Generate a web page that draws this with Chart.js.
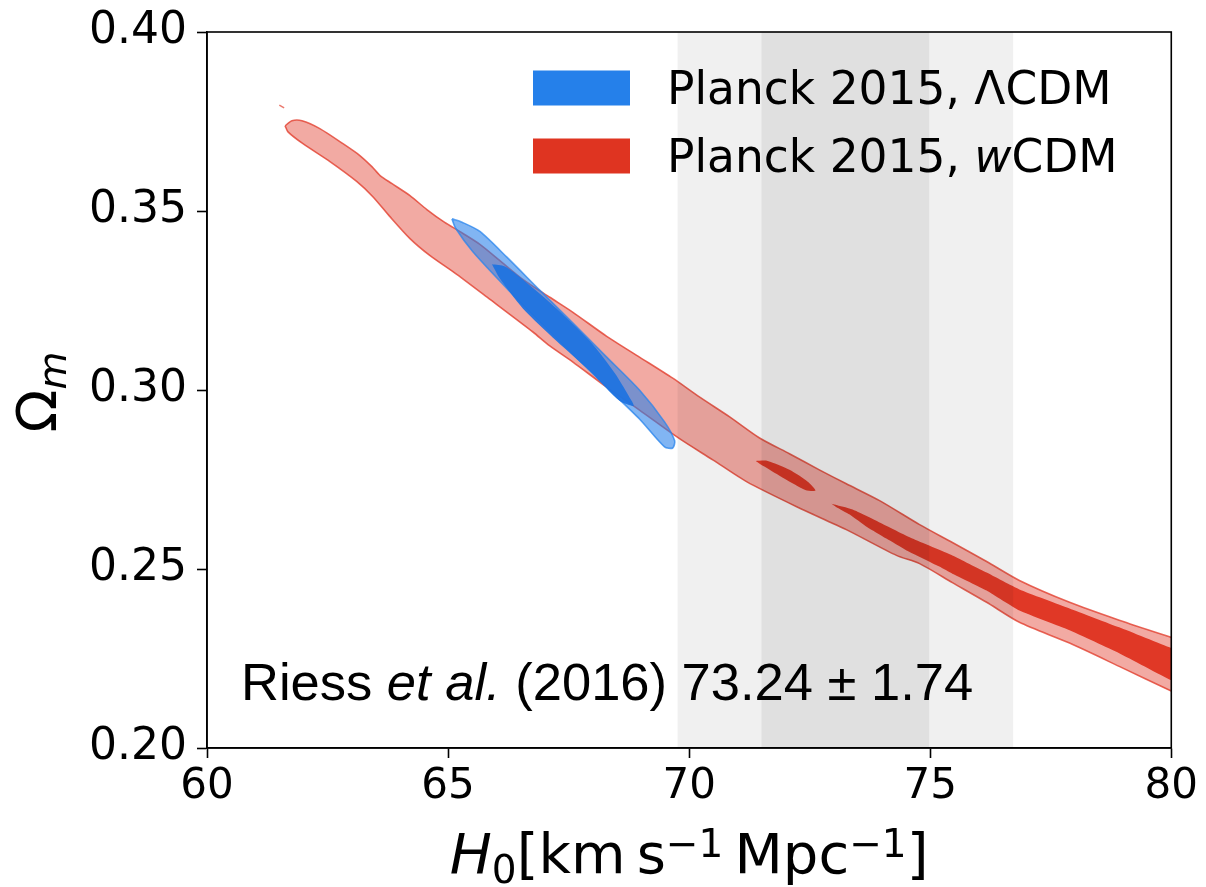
<!DOCTYPE html>
<html><head><meta charset="utf-8">
<script src="https://cdn.jsdelivr.net/npm/chart.js@4/dist/chart.umd.min.js"></script>
<style>html,body{margin:0;padding:0;background:#fff}#wrap{width:1206px;height:887px;position:relative}</style>
</head><body><div id="wrap"><canvas id="c"></canvas></div>
<script>
// ---- tick values ----
const xTicks = [60, 65, 70, 75, 80];
const yTicks = [0.20, 0.25, 0.30, 0.35, 0.40];

// ---- Riess et al. (2016) H0 measurement ----
const riessMean = 73.24;
const riessSigma = 1.74;

// ---- Planck 2015 wCDM, 95% contour outline (H0, Omega_m) ----
const wcdm95H0 = [61.62,61.76,61.97,62.34,62.82,63.17,63.42,63.59,63.83,64.21,64.56,64.93,65.24,65.66,66.07,66.55,67.11,67.59,68.29,68.97,69.66,70.22,70.84,71.46,72.08,72.70,73.26,73.95,74.78,75.46,76.17,76.85,77.89,78.92,80.00,80.58,
  80.58,80.00,78.92,77.89,76.85,76.17,75.46,74.78,74.30,73.26,72.23,71.19,70.49,69.80,68.97,68.29,67.59,67.11,66.76,65.87,65.18,64.62,64.21,63.79,63.44,63.11,62.55,61.99,61.68,61.62];
const wcdm95Om = [0.3738,0.3752,0.3752,0.3730,0.3688,0.3655,0.3624,0.3599,0.3577,0.3543,0.3504,0.3468,0.3443,0.3407,0.3362,0.3309,0.3259,0.3217,0.3150,0.3092,0.3033,0.2980,0.2925,0.2866,0.2822,0.2777,0.2738,0.2691,0.2624,0.2574,0.2521,0.2468,0.2407,0.2357,0.2309,0.2284,
  0.2123,0.2159,0.2228,0.2293,0.2351,0.2407,0.2462,0.2515,0.2538,0.2610,0.2674,0.2744,0.2805,0.2864,0.2944,0.3008,0.3078,0.3123,0.3162,0.3253,0.3323,0.3376,0.3423,0.3485,0.3540,0.3582,0.3638,0.3688,0.3721,0.3738];
// small isolated 95% island
const wcdmSpeckH0 = [61.50, 61.60];
const wcdmSpeckOm = [0.3796, 0.3788];

// ---- Planck 2015 wCDM, 68% contour islands ----
const wcdm68aH0 = [71.38,71.63,72.08,72.46,72.62,72.41,71.98,71.56,71.38];
const wcdm68aOm = [0.2802,0.2802,0.2777,0.2744,0.2719,0.2721,0.2752,0.2786,0.2802];
const wcdm68bH0 = [72.95,73.39,73.95,74.63,75.46,76.17,76.85,77.89,78.92,80.00,80.58,80.58,80.00,78.92,77.89,76.85,76.17,75.46,75.19,74.51,74.09,73.68,73.33,73.04,72.95];
const wcdm68bOm = [0.2682,0.2666,0.2630,0.2585,0.2538,0.2490,0.2443,0.2390,0.2337,0.2279,0.2253,0.2156,0.2189,0.2265,0.2329,0.2384,0.2440,0.2487,0.2507,0.2552,0.2585,0.2618,0.2652,0.2674,0.2682];

// ---- Planck 2015 LambdaCDM contours ----
const lcdm95H0 = [65.08,65.30,65.66,66.22,66.90,67.59,68.29,68.97,69.49,69.70,69.66,69.49,68.97,68.29,67.59,66.90,66.22,65.51,65.16,65.08];
const lcdm95Om = [0.3478,0.3468,0.3443,0.3371,0.3279,0.3187,0.3092,0.3000,0.2911,0.2858,0.2838,0.2841,0.2919,0.3008,0.3100,0.3192,0.3284,0.3387,0.3451,0.3478];
const lcdm68H0 = [65.91,66.18,66.55,67.25,67.94,68.46,68.81,68.85,68.56,67.94,67.25,66.55,66.07,65.91];
const lcdm68Om = [0.3351,0.3345,0.3309,0.3228,0.3137,0.3047,0.2969,0.2955,0.2969,0.3053,0.3137,0.3228,0.3312,0.3351];

const legendLabels = [
  [['Planck 2015, \u039BCDM','n']],
  [['Planck 2015, ','n'],['w','i'],['CDM','n']]
];
const legendColors = ['rgb(37,128,234)','rgb(223,52,33)'];

const zip = (xs, ys) => xs.map((x, i) => ({x, y: ys[i]}));

function poly(label, xs, ys, fillColor, lineColor, lineWidth, order, tension){
  return {label, data: zip(xs, ys), showLine: true, fill: 'shape',
    backgroundColor: fillColor, borderColor: lineColor, borderWidth: lineWidth,
    pointRadius: 0, tension: tension, order};
}

const datasets = [
  poly('LCDM 68%', lcdm68H0, lcdm68Om, 'rgba(30,115,225,0.93)', 'rgba(30,115,225,0.0)', 0, 1, 0.25),
  poly('LCDM 95%', lcdm95H0, lcdm95Om, 'rgba(38,128,235,0.58)', 'rgba(40,132,236,0.75)', 1.6, 2, 0.25),
  poly('wCDM 68% a', wcdm68aH0, wcdm68aOm, 'rgba(222,50,32,0.95)', 'rgba(222,50,32,0.0)', 0, 3, 0.25),
  poly('wCDM 68% b', wcdm68bH0, wcdm68bOm, 'rgba(222,50,32,0.95)', 'rgba(222,50,32,0.0)', 0, 4, 0.15),
  poly('wCDM 95%', wcdm95H0, wcdm95Om, 'rgba(224,52,36,0.42)', 'rgba(226,64,48,0.8)', 1.6, 5, 0.25),
  {label:'wCDM speck', data: zip(wcdmSpeckH0, wcdmSpeckOm), showLine:true, fill:false,
   borderColor:'rgba(226,64,48,0.7)', borderWidth:1.5, pointRadius:0, order:6}
];

function rich(ctx, parts, x, y, align){
  let w = 0;
  for (const p of parts){ ctx.font = p[1]; w += ctx.measureText(p[0]).width; }
  let cx = align === 'center' ? x - w/2 : x;
  for (const p of parts){ ctx.font = p[1]; ctx.fillText(p[0], cx, y + (p[2]||0)); cx += ctx.measureText(p[0]).width; }
}

const decor = {
  id: 'decor',
  afterDatasetsDraw(chart){
    const {ctx, chartArea: a, scales: {x}} = chart;
    ctx.save();
    ctx.beginPath(); ctx.rect(a.left, a.top, a.right-a.left, a.bottom-a.top); ctx.clip();
    const b2l = x.getPixelForValue(riessMean - 2*riessSigma), b2r = x.getPixelForValue(riessMean + 2*riessSigma);
    const b1l = x.getPixelForValue(riessMean - riessSigma), b1r = x.getPixelForValue(riessMean + riessSigma);
    ctx.fillStyle = 'rgba(0,0,0,0.058)';
    ctx.fillRect(b2l, a.top, b2r-b2l, a.bottom-a.top);
    ctx.fillStyle = 'rgba(0,0,0,0.072)';
    ctx.fillRect(b1l, a.top, b1r-b1l, a.bottom-a.top);
    ctx.restore();
  },
  afterDraw(chart){
    const {ctx, chartArea: a} = chart;
    ctx.save();
    // frame
    ctx.strokeStyle = '#000'; ctx.lineWidth = 1.6;
    ctx.strokeRect(a.left, a.top, a.right-a.left, a.bottom-a.top);
    ctx.fillStyle = '#000'; ctx.textAlign = 'left'; ctx.textBaseline = 'alphabetic';
    // legend
    const rowY = [88, 156];
    for (let i = 0; i < 2; i++){
      ctx.fillStyle = legendColors[i];
      ctx.fillRect(533, rowY[i]-17.5, 97, 35);
      ctx.fillStyle = '#000';
      const parts = legendLabels[i].map(p => [p[0], (p[1]==='i' ? 'italic ' : '') + "45.5px 'DejaVu Sans'"]);
      rich(ctx, parts, 667, rowY[i]+16, 'left');
    }
    // annotation
    const AF = "52.5px 'Liberation Sans'";
    rich(ctx, [['Riess ', AF], ['et al.', 'italic '+AF], [' (2016) ' + riessMean.toFixed(2) + ' \u00B1 ' + riessSigma.toFixed(2), AF]], 241, 700, 'left');
    // x axis title
    const F = "56px 'DejaVu Sans'", FI = "italic 56px 'DejaVu Sans'", FS = "39px 'DejaVu Sans'";
    rich(ctx, [['H', FI], ['0', FS, 10], ['[', F], ['km', F], ['\u2009', F], ['s', F], ['\u22121', FS, -16], ['\u2009', F], ['Mpc', F], ['\u22121', FS, -16], [']', F]],
      (a.left + a.right)/2, 873, 'center');
    // y axis title
    ctx.translate(56, (a.top + a.bottom)/2 + 2);
    ctx.rotate(-Math.PI/2);
    rich(ctx, [['\u03A9', F], ['m', "italic 39px 'DejaVu Sans'", 10]], 0, 0, 'center');
    ctx.restore();
  }
};

new Chart(document.getElementById('c'), {
  type: 'scatter',
  data: {datasets},
  options: {
    responsive: true, maintainAspectRatio: false, animation: false, events: [],
    layout: {padding: {top: 28, right: 32, left: 0, bottom: 0}},
    elements: {line: {capBezierPoints: false}},
    plugins: {legend: {display: false}, tooltip: {enabled: false}, filler: {propagate: false}},
    scales: {
      x: {type: 'linear', min: 60, max: 80,
        afterFit: s => { s.height = 139; },
        afterBuildTicks: s => { s.ticks = xTicks.map(v => ({value: v})); },
        ticks: {font: {family: "'DejaVu Sans'", size: 42, lineHeight: 1}, color: '#000', padding: 8, maxRotation: 0, callback: v => String(v)},
        grid: {display: true, drawOnChartArea: false, drawTicks: true, tickLength: 10, tickColor: '#000', tickWidth: 1.6},
        border: {display: true, color: '#000', width: 1.6}},
      y: {type: 'linear', min: 0.2, max: 0.4,
        afterFit: s => { s.width = 207; },
        afterBuildTicks: s => { s.ticks = yTicks.map(v => ({value: v})); },
        ticks: {font: {family: "'DejaVu Sans'", size: 44, lineHeight: 1}, color: '#000', padding: 10, callback: v => Number(v).toFixed(2)},
        grid: {display: true, drawOnChartArea: false, drawTicks: true, tickLength: 10, tickColor: '#000', tickWidth: 1.6},
        border: {display: true, color: '#000', width: 1.6}}
    }
  },
  plugins: [decor]
});
</script>
</body></html>
